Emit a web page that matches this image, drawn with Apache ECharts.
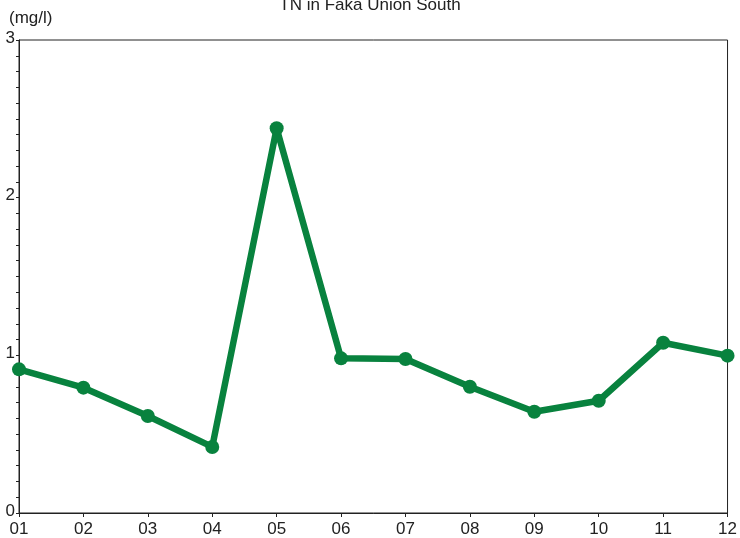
<!DOCTYPE html>
<html>
<head>
<meta charset="utf-8">
<script src="https://cdn.jsdelivr.net/npm/echarts@6/dist/echarts.min.js"></script>
<style>html,body{margin:0;padding:0;background:#fff}#c{width:740px;height:538px}</style>
</head>
<body>
<div id="c"></div>
<script>
var categories = ['01','02','03','04','05','06','07','08','09','10','11','12'];
var tnValues = [0.911, 0.795, 0.615, 0.419, 2.440, 0.981, 0.977, 0.801, 0.642, 0.712, 1.080, 0.998];
var yTicks = [0, 1, 2, 3];
var titleText = 'TN in Faka Union South';
var unitText = '(mg/l)';

var chart = echarts.init(document.getElementById('c'), null, {renderer: 'canvas'});
var font = 'Liberation Sans, Arial, sans-serif';
chart.setOption({
  animation: false,
  backgroundColor: '#fff',
  title: {
    text: titleText, left: 'center', top: -8,
    textStyle: {fontFamily: font, fontSize: 17, fontWeight: 'normal', color: '#222'}
  },
  graphic: [{
    type: 'text', left: 9, top: 10,
    style: {text: unitText, font: '17px ' + font, fill: '#222'}
  }],
  grid: {left: 19, right: 11, top: 40, bottom: 25, show: true, borderColor: '#222', borderWidth: 1},
  xAxis: {
    type: 'category', data: categories, boundaryGap: false,
    axisLine: {lineStyle: {color: '#222', width: 1}},
    axisTick: {show: true, length: 4, alignWithLabel: true, lineStyle: {color: '#222'}},
    axisLabel: {fontFamily: font, fontSize: 17, color: '#222', margin: 8, interval: 0},
    splitLine: {show: false}
  },
  yAxis: {
    type: 'value', min: yTicks[0], max: yTicks[yTicks.length - 1], interval: 1,
    axisLine: {show: true, lineStyle: {color: '#222', width: 1}},
    axisTick: {show: true, length: 3, lineStyle: {color: '#222'}},
    minorTick: {show: true, splitNumber: 10, length: 3, lineStyle: {color: '#222'}},
    axisLabel: {fontFamily: font, fontSize: 17, color: '#222', margin: 4, verticalAlign: 'bottom', lineHeight: 4},
    splitLine: {show: false}
  },
  series: [{
    type: 'line', data: tnValues,
    symbol: 'circle', symbolSize: 14,
    lineStyle: {color: '#08823e', width: 6.5},
    itemStyle: {color: '#08823e'},
    z: 3
  }]
});
</script>
</body>
</html>
